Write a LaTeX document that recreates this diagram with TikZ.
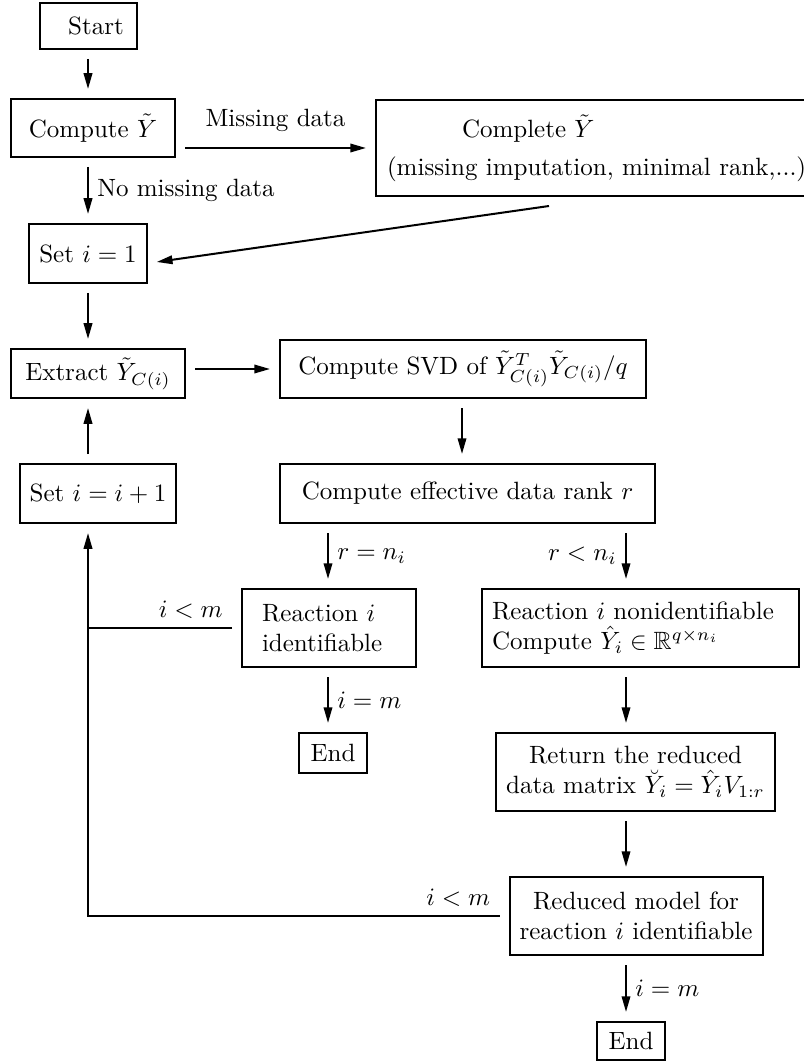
\documentclass[tikz,border=0pt]{standalone}
\usepackage{amsmath}
\usepackage{amsfonts}
\usetikzlibrary{arrows.meta}

\tikzset{
  box/.style={draw, line width=.8pt, outer sep=4pt, inner xsep=4pt, inner ysep=3pt},
  arr/.style={-{Triangle[length=6.3pt,width=3.4pt]}, line width=.8pt},
  lne/.style={line width=.8pt}
}

\begin{document}
\begin{tikzpicture}[x=0.4pt, y=-0.4pt]
    \useasboundingbox (0,0) rectangle (803,1064);
    \coordinate (lcol) at (88,0);
    \coordinate (scol) at (462,0);
    \coordinate (mcol) at (328,0);
    \coordinate (rcol) at (626,0);

    \node[box, minimum width=38.8pt, minimum height=18.4pt] (start) at (88.5,26) {\hspace*{6pt}Start};
    \node[box, minimum width=65.6pt, minimum height=23.2pt] (compute) at (93,128) {Compute $\tilde{Y}$};
    \node[box, anchor=west, minimum height=38.4pt, inner xsep=4.4pt, align=left] (complete) at (366,148)
       {\hspace*{30pt}Complete $\tilde{Y}$\\[3.2pt](missing imputation, minimal rank,...)};
    \node[box, minimum width=46.4pt, minimum height=23.6pt] (set1) at (88,253.5) {Set $i=1$};
    \node[box, minimum width=69.6pt, minimum height=19.6pt] (extract) at (98,373.5) {Extract $\tilde{Y}_{C(i)}$};
    \node[box, minimum width=146.4pt, minimum height=23.2pt] (svd) at (463,369)
       {Compute SVD of $\tilde{Y}_{C(i)}^T\tilde{Y}_{C(i)}/q$};
    \node[box, minimum width=61.6pt, minimum height=23.6pt] (seti) at (98,493.5) {Set $i=i+1$};
    \node[box, minimum width=150pt, minimum height=23.6pt] (rank) at (467.5,493.5) {Compute effective data rank $r$};
    \node[box, text width=53.6pt, inner xsep=8pt, align=left, minimum height=31.2pt] (reacid) at (329,628)
       {Reaction $i$\\identifiable};
    \node[box, text width=118.8pt, align=left, minimum height=31.2pt] (nonid) at (640.5,628)
       {Reaction $i$ nonidentifiable\\Compute $\hat{Y}_i\in\mathbb{R}^{q\times n_i}$};
    \node[box, minimum width=27.2pt, minimum height=16pt] (end1) at (333,753) {End};
    \node[box, minimum width=107.6pt, minimum height=31.2pt, align=center] (ret) at (635.5,772)
       {Return the reduced\\data matrix $\breve{Y}_i=\hat{Y}_iV_{1:r}$};
    \node[box, minimum width=100pt, minimum height=31.2pt, align=center] (reduced) at (636,916)
       {Reduced model for\\reaction $i$ identifiable};
    \node[box, minimum width=27.2pt, minimum height=15.2pt] (end2) at (631,1041) {End};

    \draw[arr] (start.south -| lcol) -- (compute.north -| lcol);
    \draw[arr] (compute.east |- complete.west) -- node[above=2.7pt] {Missing data} (complete.west);
    \draw[arr] (compute.south -| lcol) -- node[right] {No missing data} (set1.north -| lcol);
    \draw[arr] ([xshift=73.2pt]complete.south west) -- ([yshift=-3.4pt]set1.east);
    \draw[arr] (set1.south -| lcol) -- (extract.north -| lcol);
    \draw[arr] (extract.east |- svd.west) -- (svd.west);
    \draw[arr] (svd.south -| scol) -- (rank.north -| scol);
    \draw[arr] (seti.north -| lcol) -- (extract.south -| lcol);
    \draw[arr] (rank.south -| mcol) -- node[right] {$r=n_i$} (reacid.north -| mcol);
    \draw[arr] (rank.south -| rcol) -- node[left] {$r<n_i$} (nonid.north -| rcol);
    \draw[arr] (reacid.south -| mcol) -- node[right] {$i=m$} (end1.north -| mcol);
    \draw[arr] (nonid.south -| rcol) -- (ret.north -| rcol);
    \draw[arr] (ret.south -| rcol) -- (reduced.north -| rcol);
    \draw[arr] (reduced.south -| rcol) -- node[right] {$i=m$} (end2.north -| rcol);

    \draw[lne] (reacid.west) node[above left] {$i<m$} -- (reacid.west -| lcol);
    \draw[arr] (reduced.west) node[above left] {$i<m$} -| (seti.south -| lcol);
\end{tikzpicture}
\end{document}
